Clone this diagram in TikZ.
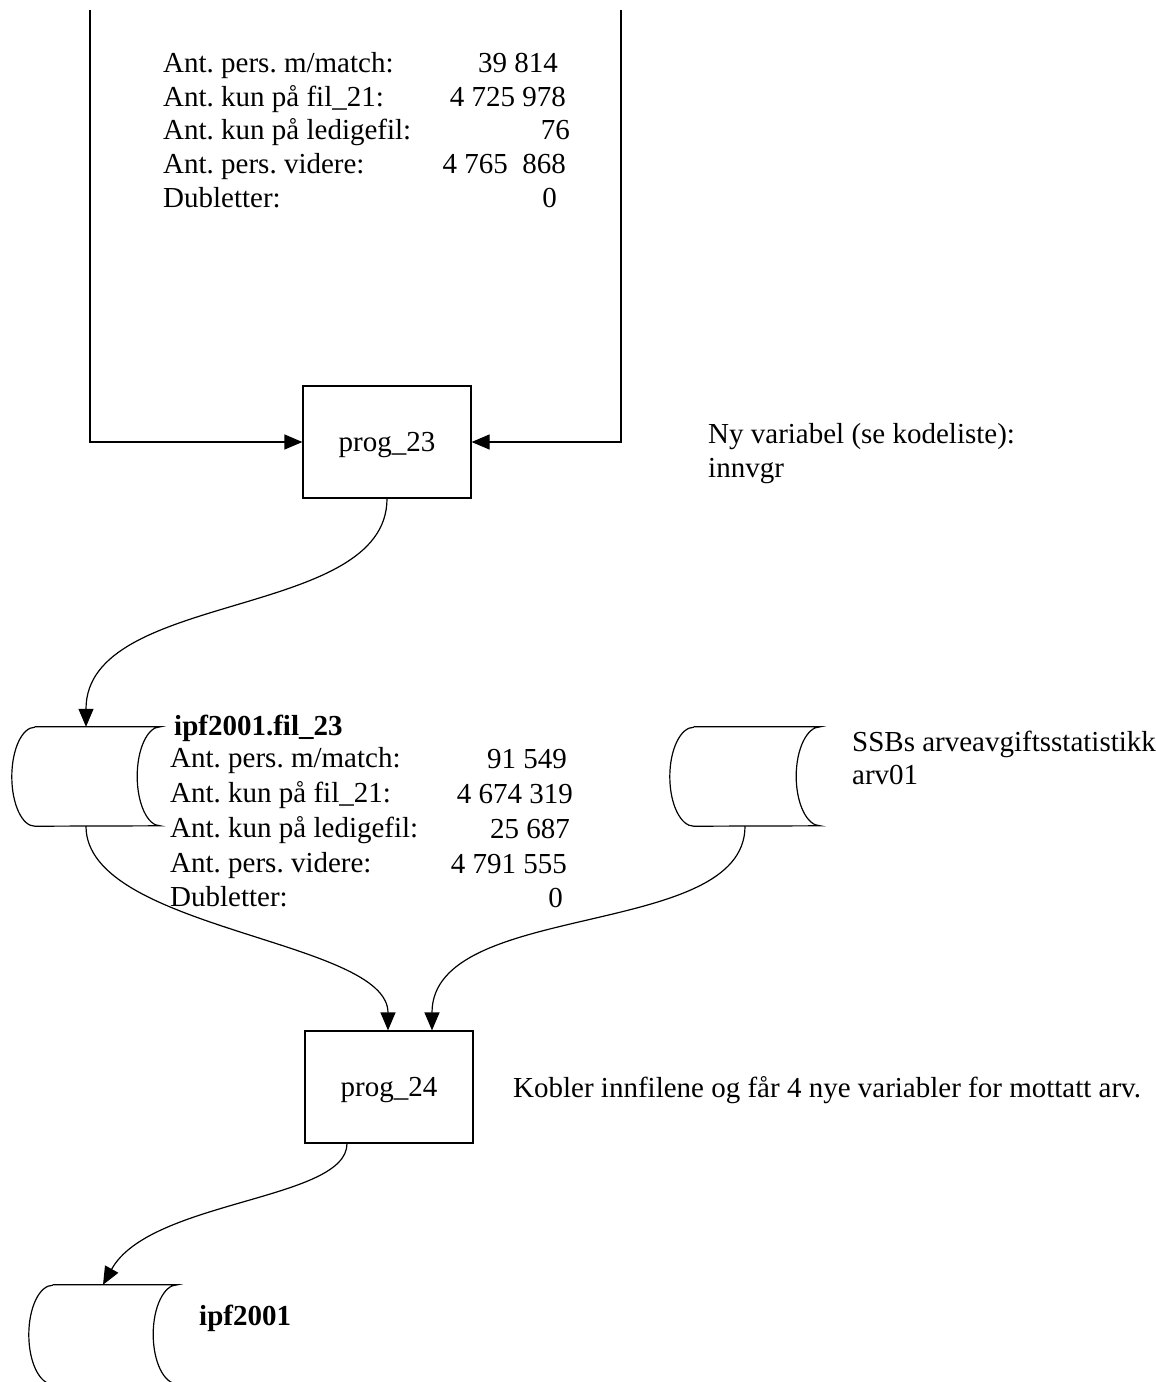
\documentclass[tikz,border=0pt]{standalone}
\usepackage{fontspec}
\setmainfont{Liberation Serif}
\usetikzlibrary{arrows.meta}
\frenchspacing
\newcommand\cylout[2]{%
  \draw[line] ([xshift=#2]#1.north west) -- (#1.north east)
    arc[start angle=90,end angle=270,x radius=#2,y radius=49.5pt]
    -- ([xshift=#2]#1.south west)
    arc[start angle=270,end angle=90,x radius=#2,y radius=49.5pt];}
\begin{document}
\frenchspacing
\begin{tikzpicture}[x=1pt,y=-1pt,
  every node/.style={font=\fontsize{29pt}{34.5pt}\selectfont, inner sep=0pt},
  line/.style={line width=1.2pt, draw=black},
  tip/.style={-{Triangle[length=18pt,width=15pt]}},
  progbox/.style={draw, line width=1.2pt, minimum width=168pt, minimum height=112pt, text depth=0pt},
  cylbox/.style={minimum height=99pt},
  lbl/.style={anchor=base west},
  num/.style={anchor=base east},
  ttl/.style={anchor=base west, font=\fontsize{29pt}{34.5pt}\selectfont\bfseries}]
\useasboundingbox (0,0) rectangle (1156,1382);

% top block
\coordinate (tl) at (90,10);
\coordinate (tr) at (621,10);
\node[lbl] (a1) at (163,72) {Ant. pers. m/match:};
\node[lbl] (a2) at (163,106) {Ant. kun på fil\_21:};
\node[lbl] (a3) at (163,139) {Ant. kun på ledigefil:};
\node[lbl] (a4) at (163,173) {Ant. pers. videre:};
\node[lbl] (a5) at (163,207) {Dubletter:};
\node[num] (n1) at (558,72) {39 814};
\node[num] (n2) at (566,106) {4 725 978};
\node[num] (n3) at (570,139) {76};
\node[num] (n4) at (566,173) {4 765\ \ 868};
\node[num] (n5) at (557,207) {0};

% prog_23
\node[progbox] (p23) at (387,442) {prog\_23};
\draw[line,tip] (tl) |- (p23.west);
\draw[line,tip] (tr) |- (p23.east);
\node[lbl] (ny1) at (708,443) {Ny variabel (se kodeliste):};
\node[lbl] (ny2) at (708,477) {innvgr};

% cylinder ipf2001.fil_23
\node[cylbox, minimum width=148pt] (c1) at (86,776.5) {};
\cylout{c1}{23pt}
\draw[line,tip] (p23.south) .. controls +(0,122) and +(0,-137) .. (c1.north);
\node[ttl] (t1) at (174,735) {ipf2001.fil\_23};
\node[lbl] (b1) at (170,767) {Ant. pers. m/match:};
\node[lbl] (b2) at (170,802) {Ant. kun på fil\_21:};
\node[lbl] (b3) at (170,837) {Ant. kun på ledigefil:};
\node[lbl] (b4) at (170,872) {Ant. pers. videre:};
\node[lbl] (b5) at (170,906) {Dubletter:};
\node[num] (m1) at (567,768) {91 549};
\node[num] (m2) at (573,803) {4 674 319};
\node[num] (m3) at (570,838) {25 687};
\node[num] (m4) at (567,873) {4 791 555};
\node[num] (m5) at (563,907) {0};

% cylinder arv01
\node[cylbox, minimum width=150pt] (c2) at (745,776.5) {};
\cylout{c2}{24pt}
\node[lbl] (s1) at (852,751) {SSBs arveavgiftsstatistikk};
\node[lbl] (s2) at (852,784) {arv01};

% prog_24
\node[progbox] (p24) at (389,1087) {prog\_24};
\node[lbl] (k1) at (513,1097) {Kobler innfilene og får 4 nye variabler for mottatt arv.};
\draw[line,tip] (c1.south) .. controls +(0,104) and +(0,-91) .. ([xshift=-1pt]p24.north);
\draw[line,tip] (c2.south) .. controls +(0,114) and +(0,-131) .. ([xshift=43pt]p24.north);

% cylinder ipf2001
\node[cylbox, minimum width=148pt] (c3) at (103,1334.5) {};
\cylout{c3}{24pt}
\draw[line,tip] ([xshift=-42pt]p24.south) .. controls +(0,57) and +(47,-85) .. (c3.north);
\node[ttl] (t3) at (199,1325) {ipf2001};
\end{tikzpicture}
\end{document}
